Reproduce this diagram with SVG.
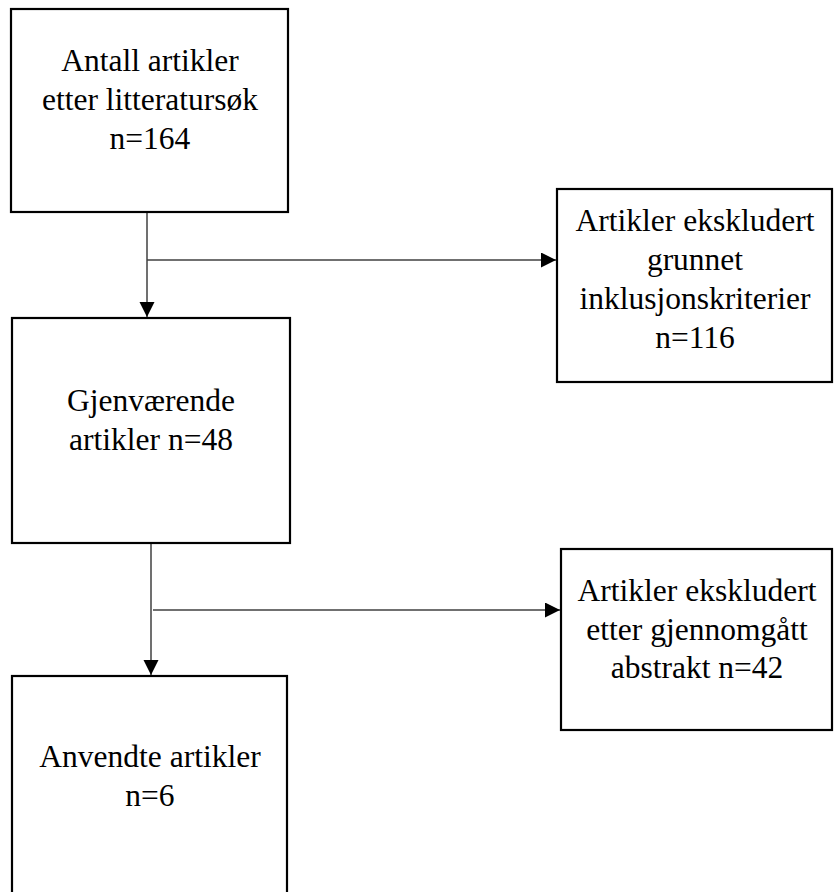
<svg xmlns="http://www.w3.org/2000/svg" width="834" height="892" viewBox="0 0 834 892">
<style>
.box{fill:#fff;stroke:#000;stroke-width:2.2}
.lbl{font-family:"Liberation Serif","Times New Roman",serif;font-size:31.5px;fill:#000;text-anchor:middle}
.con{stroke:#404040;stroke-width:1.5;fill:none}
</style>
<defs>
<marker id="ah" markerUnits="userSpaceOnUse" markerWidth="16" markerHeight="16" refX="15" refY="7.5" orient="auto">
<path d="M0,0 L15,7.5 L0,15 Z" fill="#000"/>
</marker>
</defs>
<rect width="834" height="892" fill="#fff"/>
<g id="connectors">
<line class="con" x1="147" y1="212" x2="147" y2="317" marker-end="url(#ah)"/>
<line class="con" x1="147" y1="260" x2="556" y2="260" marker-end="url(#ah)"/>
<line class="con" x1="151" y1="543" x2="151" y2="675" marker-end="url(#ah)"/>
<line class="con" x1="153" y1="610" x2="560" y2="610" marker-end="url(#ah)"/>
</g>
<g id="n1">
<rect class="box" x="11" y="9" width="277" height="203"/>
<text class="lbl" x="150" y="71">Antall artikler</text>
<text class="lbl" x="150" y="110">etter litteratursøk</text>
<text class="lbl" x="150" y="149">n=164</text>
</g>
<g id="n2">
<rect class="box" x="557" y="189" width="275" height="193"/>
<text class="lbl" x="695" y="231">Artikler ekskludert</text>
<text class="lbl" x="695" y="270">grunnet</text>
<text class="lbl" x="695" y="309">inklusjonskriterier</text>
<text class="lbl" x="695" y="348">n=116</text>
</g>
<g id="n3">
<rect class="box" x="12" y="318" width="278" height="225"/>
<text class="lbl" x="151" y="411">Gjenværende</text>
<text class="lbl" x="151" y="450">artikler n=48</text>
</g>
<g id="n4">
<rect class="box" x="561" y="549" width="271" height="181"/>
<text class="lbl" x="697" y="601">Artikler ekskludert</text>
<text class="lbl" x="697" y="640">etter gjennomgått</text>
<text class="lbl" x="697" y="678">abstrakt n=42</text>
</g>
<g id="n5">
<rect class="box" x="12" y="676" width="275" height="230"/>
<text class="lbl" x="150" y="767">Anvendte artikler</text>
<text class="lbl" x="150" y="806">n=6</text>
</g>
</svg>
